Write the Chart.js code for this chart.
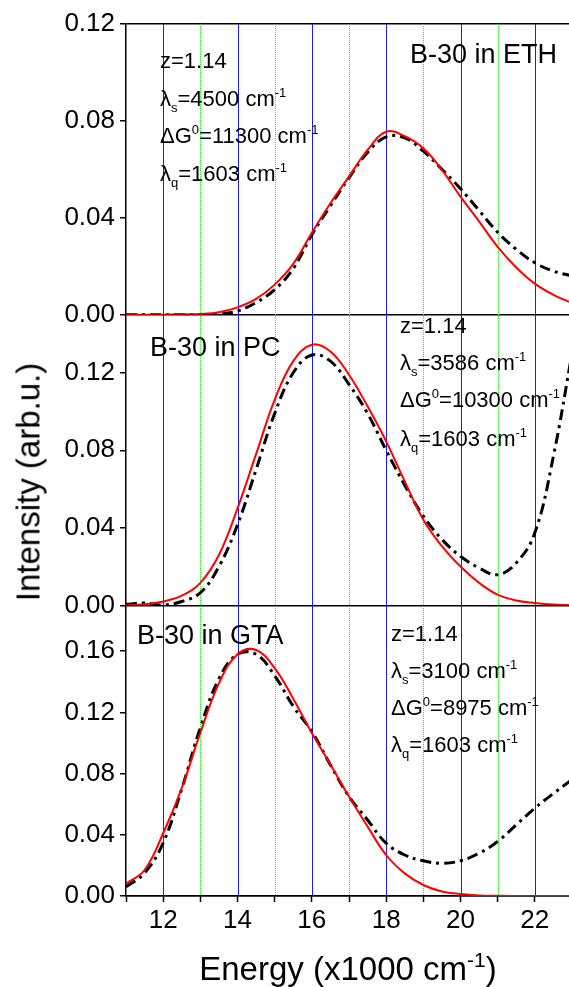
<!DOCTYPE html>
<html>
<head>
<meta charset="utf-8">
<script src="https://cdn.jsdelivr.net/npm/chart.js@4"></script>
<style>
  html, body { margin: 0; padding: 0; background: #fff; overflow: hidden; }
  #page { position: relative; width: 569px; height: 987px; overflow: hidden; font-family: 'Liberation Sans', Arial, sans-serif; color: #000; }
  #box { position: absolute; left: 0; top: 0; width: 580px; height: 987px; }
  .t { position: absolute; white-space: nowrap; font-size: 22px; line-height: 22px; }
  .big { font-size: 27px; line-height: 27px; }
  .sub { font-size: 13px; position: relative; top: 6px; }
  .sup { font-size: 13px; position: relative; top: -9px; }
  .tsup { font-size: 21px; position: relative; top: -13px; }
  #ytitle { position: absolute; left: 28px; top: 482px; font-size: 33px; line-height: 33px; white-space: nowrap; transform: translate(-50%, -50%) rotate(-90deg); }
  #xtitle { position: absolute; left: 348px; top: 952px; font-size: 33px; line-height: 33px; white-space: nowrap; transform: translateX(-50%); }
</style>
</head>
<body>
<div id="page">
  <div id="box"><canvas id="chart"></canvas></div>

  <div class="t big" style="left:410px; top:41px;">B-30 in ETH</div>
  <div class="t" style="left:160px; top:50px;">z=1.14</div>
  <div class="t" style="left:160px; top:88px;">&lambda;<span class="sub">s</span>=4500 cm<span class="sup">-1</span></div>
  <div class="t" style="left:160px; top:125px;">&Delta;G<span class="sup">0</span>=11300 cm<span class="sup">-1</span></div>
  <div class="t" style="left:160px; top:163px;">&lambda;<span class="sub">q</span>=1603 cm<span class="sup">-1</span></div>

  <div class="t big" style="left:150px; top:334px;">B-30 in PC</div>
  <div class="t" style="left:400px; top:315px;">z=1.14</div>
  <div class="t" style="left:400px; top:352px;">&lambda;<span class="sub">s</span>=3586 cm<span class="sup">-1</span></div>
  <div class="t" style="left:400px; top:389px;">&Delta;G<span class="sup">0</span>=10300 cm<span class="sup">-1</span></div>
  <div class="t" style="left:400px; top:428px;">&lambda;<span class="sub">q</span>=1603 cm<span class="sup">-1</span></div>

  <div class="t big" style="left:137px; top:622px;">B-30 in GTA</div>
  <div class="t" style="left:391px; top:623px;">z=1.14</div>
  <div class="t" style="left:391px; top:660px;">&lambda;<span class="sub">s</span>=3100 cm<span class="sup">-1</span></div>
  <div class="t" style="left:391px; top:697px;">&Delta;G<span class="sup">0</span>=8975 cm<span class="sup">-1</span></div>
  <div class="t" style="left:391px; top:734px;">&lambda;<span class="sub">q</span>=1603 cm<span class="sup">-1</span></div>

  <div id="ytitle">Intensity (arb.u.)</div>
  <div id="xtitle">Energy (x1000 cm<span class="tsup">-1</span>)</div>
</div>

<script>
// ---- DATA (x1000 cm-1) ----
const energy = [11, 11.5, 12, 12.5, 13, 13.5, 14, 14.5, 15, 15.5, 16, 16.5, 17,
                17.5, 18, 18.5, 19, 19.5, 20, 20.5, 21, 21.5, 22, 22.5, 23];

// B-30 in ETH
const ethExp = [0, 0, 0, 0, 0, 0.0002, 0.0015, 0.005, 0.0103, 0.019, 0.033, 0.045, 0.0565,
                0.067, 0.0734, 0.073, 0.0675, 0.06, 0.052, 0.043, 0.034, 0.027, 0.0214, 0.018, 0.016];
const ethFit = [0, 0, 0, 0.0001, 0.0003, 0.001, 0.003, 0.0065, 0.0124, 0.021, 0.0338, 0.046, 0.057,
                0.068, 0.0755, 0.0737, 0.0687, 0.0598, 0.0487, 0.0385, 0.028, 0.0195, 0.0128, 0.0082, 0.0048];

// B-30 in PC
const pcExp = [0.0005, 0.0012, 0.0002, 0.002, 0.0065, 0.02, 0.0416, 0.07, 0.099, 0.12, 0.1292, 0.126, 0.114,
               0.099, 0.080, 0.062, 0.046, 0.034, 0.0253, 0.0193, 0.0158, 0.0219, 0.0374, 0.077, 0.13];
const pcFit = [0, 0.0005, 0.002, 0.005, 0.0116, 0.026, 0.05, 0.078, 0.106, 0.126, 0.1345, 0.131, 0.119,
               0.1027, 0.0846, 0.064, 0.0442, 0.0305, 0.020, 0.0116, 0.0055, 0.0025, 0.0012, 0.0004, 0.0001];

// B-30 in GTA
const gtaExp = [0.006, 0.015, 0.0347, 0.07, 0.11, 0.142, 0.158, 0.158, 0.144, 0.124, 0.1075, 0.0857, 0.065,
                0.0497, 0.0345, 0.0268, 0.023, 0.0214, 0.023, 0.028, 0.0356, 0.0465, 0.0574, 0.067, 0.076];
const gtaFit = [0.008, 0.017, 0.041, 0.0705, 0.1066, 0.139, 0.158, 0.1608, 0.149, 0.129, 0.1065, 0.086, 0.065,
                0.0454, 0.0268, 0.0148, 0.0072, 0.003, 0.0013, 0.0004, 0.0001, 0, 0, 0, 0];

const xMin = 11, xMax = 23;
const panelMax = { yEth: 0.12, yPc: 0.15, yGta: 0.19 };

// ---- HELPERS ----
const pts = arr => arr.map((v, i) => ({ x: energy[i], y: v }));
const FONT = "'Liberation Sans', Arial, sans-serif";
const CLEAR = 'rgba(0,0,0,0)';

const expLine = (data, axis) => ({
  data: pts(data), yAxisID: axis,
  borderColor: '#000', borderWidth: 3, borderDash: [11, 5, 3, 5],
  pointRadius: 0, tension: 0.4, fill: false
});
const fitLine = (data, axis) => ({
  data: pts(data), yAxisID: axis,
  borderColor: '#ff0000', borderWidth: 2,
  pointRadius: 0, tension: 0.4, fill: false
});

const yAxis = (id, top) => ({
  type: 'linear', position: 'left', stack: 'panels', stackWeight: 1,
  min: 0, max: panelMax[id],
  ticks: {
    stepSize: 0.02, includeBounds: false, padding: 5,
    color: '#000', font: { family: FONT, size: 26 },
    callback: v => (Math.round(v * 100) % 4 === 0 ? v.toFixed(2) : '')
  },
  grid: {
    drawOnChartArea: true, lineWidth: 1.5, tickLength: 6, tickWidth: 1.5, tickColor: '#000',
    color: c => {
      if (!c.tick) return CLEAR;
      const v = c.tick.value;
      return (Math.abs(v) < 1e-9 || (top && Math.abs(v - panelMax[id]) < 1e-9)) ? '#000' : CLEAR;
    }
  },
  border: { color: '#000', width: 1.5 },
  afterFit: s => { s.width = 126; }
});

// vertical guide lines: blue at even energies, green dotted at odd ones
const guideLines = {
  id: 'guideLines',
  beforeDatasetsDraw(chart) {
    const { ctx, chartArea, scales: { x } } = chart;
    ctx.save();
    ctx.lineWidth = 1;
    for (let v = xMin + 1; v < xMax; v++) {
      const px = Math.round(x.getPixelForValue(v)) + 0.5;
      ctx.strokeStyle = v % 2 === 0 ? '#1a1aff' : '#33dd33';
      ctx.setLineDash(v % 2 === 0 ? [] : [1, 1]);
      ctx.beginPath();
      ctx.moveTo(px, chartArea.top);
      ctx.lineTo(px, chartArea.bottom);
      ctx.stroke();
    }
    ctx.restore();
  }
};

new Chart(document.getElementById('chart'), {
  type: 'line',
  data: {
    datasets: [
      fitLine(ethFit, 'yEth'), expLine(ethExp, 'yEth'),
      fitLine(pcFit, 'yPc'), expLine(pcExp, 'yPc'),
      fitLine(gtaFit, 'yGta'), expLine(gtaExp, 'yGta')
    ]
  },
  options: {
    responsive: true,
    maintainAspectRatio: false,
    animation: false,
    layout: { padding: { left: 0, right: 8, top: 24, bottom: 0 } },
    plugins: { legend: { display: false }, tooltip: { enabled: false } },
    scales: {
      x: {
        type: 'linear', position: 'bottom', min: xMin, max: xMax,
        ticks: {
          stepSize: 1, padding: 3, color: '#000', maxRotation: 0, autoSkip: false,
          font: { family: FONT, size: 26 },
          callback: v => (v % 2 === 0 ? String(v) : '')
        },
        grid: { drawOnChartArea: false, tickLength: 6, tickWidth: 1.5, tickColor: '#000', color: '#000' },
        border: { color: '#000', width: 1.5 },
        afterFit: s => { s.height = 91; }
      },
      yGta: yAxis('yGta', false),
      yPc: yAxis('yPc', false),
      yEth: yAxis('yEth', true)
    }
  },
  plugins: [guideLines]
});
</script>
</body>
</html>
